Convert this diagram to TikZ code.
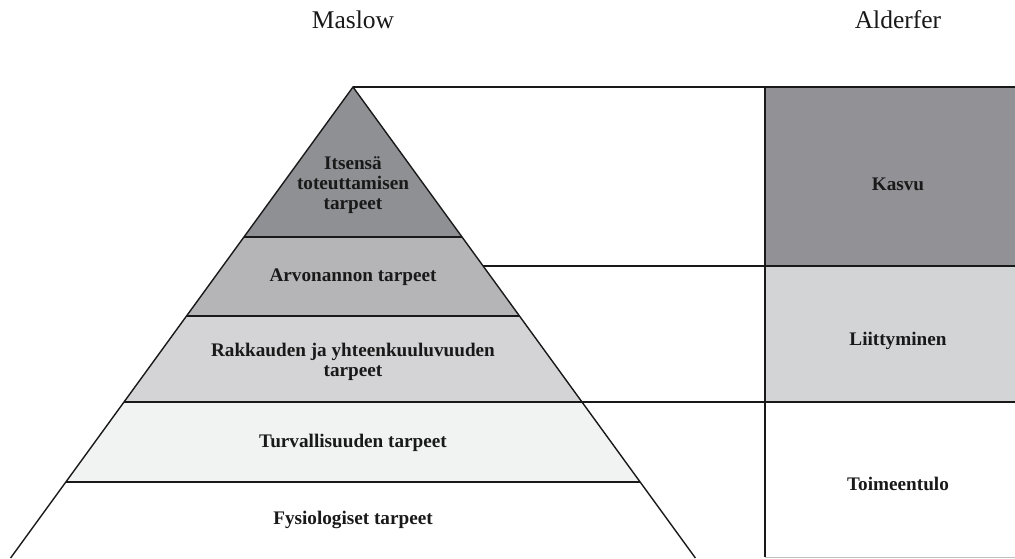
\documentclass[tikz,border=0pt]{standalone}
\usepackage{fontspec}
\setmainfont{Liberation Serif}
\usetikzlibrary{calc}
\definecolor{gTop}{HTML}{8F9094}
\definecolor{gEsteem}{HTML}{B5B5B7}
\definecolor{gLove}{HTML}{D4D4D6}
\definecolor{gSafe}{HTML}{F1F2F2}
\definecolor{gGrow}{HTML}{929296}
\definecolor{gRelate}{HTML}{D3D4D6}
\tikzset{
  edge/.style={line width=1.4pt, draw=black!90},
  level/.style={font=\bfseries\fontsize{19.2}{20}\selectfont, align=center, text=black!90},
  head/.style={font=\fontsize{25.5}{27}\selectfont, text=black!90}
}
\begin{document}
\begin{tikzpicture}[x=1pt,y=-1pt]
\useasboundingbox (0,0) rectangle (1015,558);
% pyramid corners
\coordinate (A) at (353,87);
\coordinate (L1) at (244,237);   \coordinate (R1) at (462,237);
\coordinate (L2) at (186.5,316); \coordinate (R2) at (519.5,316);
\coordinate (L3) at (124,402);   \coordinate (R3) at (582,402);
\coordinate (L4) at (66,482);    \coordinate (R4) at (640,482);
\coordinate (L5) at (10.6,558);  \coordinate (R5) at (695.4,558);
% Alderfer column corners
\coordinate (B0) at (765,87);  \coordinate (C0) at (1015,87);
\coordinate (B1) at (765,266); \coordinate (C1) at (1015,266);
\coordinate (B2) at (765,402); \coordinate (C2) at (1015,402);
\coordinate (B3) at (765,557); \coordinate (C3) at (1015,557);
% pyramid bands
\fill[gTop] (A) -- (R1) -- (L1) -- cycle;
\fill[gEsteem] (L1) -- (R1) -- (R2) -- (L2) -- cycle;
\fill[gLove] (L2) -- (R2) -- (R3) -- (L3) -- cycle;
\fill[gSafe] (L3) -- (R3) -- (R4) -- (L4) -- cycle;
% Alderfer boxes
\fill[gGrow] (B0) rectangle (C1);
\fill[gRelate] (B1) rectangle (C2);
% outlines
\draw[edge] (L5) -- (A) -- (R5);
\draw[edge] (L1) -- (R1);
\draw[edge] (L2) -- (R2);
\draw[edge] (L3) -- (R3);
\draw[edge] (L4) -- (R4);
\draw[edge] (B0) -- (B3);
\draw[line width=1pt, draw=black!25] (B3) -- (C3);
% connectors between the two models
\coordinate (P1) at (483,266);
\draw[edge] (A) -- (C0);
\draw[edge] (P1) -- (C1);
\draw[edge] (R3) -- (C2);
% labels
\node[head] (maslow) at (353,20) {Maslow};
\node[head] (alderfer) at (898,20) {Alderfer};
\node[level] (self) at (353,185) {Itsensä\\toteuttamisen\\tarpeet};
\node[level] (esteem) at (353,277) {Arvonannon tarpeet};
\node[level] (love) at (353,362) {Rakkauden ja yhteenkuuluvuuden\\tarpeet};
\node[level] (safe) at (353,443) {Turvallisuuden tarpeet};
\node[level] (phys) at (353,520) {Fysiologiset tarpeet};
\node[level] (grow) at (898,184) {Kasvu};
\node[level] (relate) at (898,341) {Liittyminen};
\node[level] (exist) at (898,484) {Toimeentulo};
\end{tikzpicture}
\end{document}
